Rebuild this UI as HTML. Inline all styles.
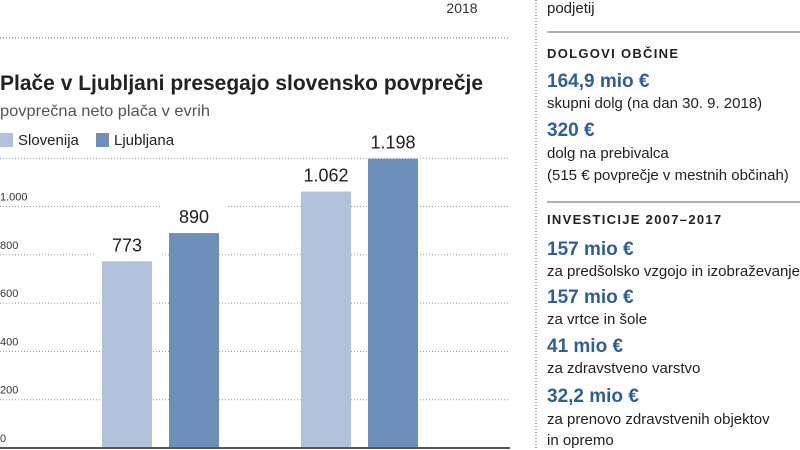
<!DOCTYPE html>
<html><head><meta charset="utf-8"><style>
body{margin:0;background:#fff;width:800px;height:450px;overflow:hidden}
svg{display:block;font-family:"Liberation Sans",sans-serif}
</style></head><body>
<svg id="chart" width="800" height="450" viewBox="0 0 800 450">
<text x="462" y="13" font-size="14" fill="#333" text-anchor="middle">2018</text>
<line x1="0" y1="38" x2="510" y2="38" stroke="#777" stroke-dasharray="1,2"/>
<text x="0" y="90" font-size="21" font-weight="bold" fill="#222" textLength="483" lengthAdjust="spacingAndGlyphs">Plače v Ljubljani presegajo slovensko povprečje</text>
<text x="0" y="116" font-size="16" fill="#555" textLength="210" lengthAdjust="spacingAndGlyphs">povprečna neto plača v evrih</text>
<g>
<rect x="0" y="133" width="13" height="14" fill="#b1c1dc"/>
<text x="18" y="145" font-size="15" fill="#222">Slovenija</text>
<rect x="96" y="133" width="13" height="14" fill="#6f8fba"/>
<text x="114" y="145" font-size="15" fill="#222">Ljubljana</text>
</g>
<g id="plot"></g>
<line x1="536" y1="0" x2="536" y2="450" stroke="#555" stroke-dasharray="1,2"/>
<g font-size="15" fill="#222">
<text x="547" y="13">podjetij</text>
<line x1="547" y1="32" x2="800" y2="32" stroke="#666"/>
<text x="547" y="58" font-size="13" font-weight="bold" letter-spacing="1.3">DOLGOVI OBČINE</text>
<text x="547" y="87" font-size="19" font-weight="bold" fill="#2e5f95">164,9 mio €</text>
<text x="547" y="108">skupni dolg (na dan 30. 9. 2018)</text>
<text x="547" y="136" font-size="19" font-weight="bold" fill="#2e5f95">320 €</text>
<text x="547" y="158">dolg na prebivalca</text>
<text x="547" y="180">(515 € povprečje v mestnih občinah)</text>
<line x1="547" y1="202" x2="800" y2="202" stroke="#666"/>
<text x="547" y="224" font-size="13" font-weight="bold" letter-spacing="1.3">INVESTICIJE 2007–2017</text>
<text x="547" y="255" font-size="19" font-weight="bold" fill="#2e5f95">157 mio €</text>
<text x="547" y="276" textLength="253" lengthAdjust="spacingAndGlyphs">za predšolsko vzgojo in izobraževanje</text>
<text x="547" y="303" font-size="19" font-weight="bold" fill="#2e5f95">157 mio €</text>
<text x="547" y="324">za vrtce in šole</text>
<text x="547" y="352" font-size="19" font-weight="bold" fill="#2e5f95">41 mio €</text>
<text x="547" y="373">za zdravstveno varstvo</text>
<text x="547" y="402" font-size="19" font-weight="bold" fill="#2e5f95">32,2 mio €</text>
<text x="547" y="424">za prenovo zdravstvenih objektov</text>
<text x="547" y="445">in opremo</text>
</g>
</svg>
<script>
const groups = ["A", "B"];
const slovenija = [773, 1062];
const ljubljana = [890, 1198];
const valueLabels = [["773", "890"], ["1.062", "1.198"]];
const ticks = [0, 200, 400, 600, 800, 1000, 1200];
const tickLabels = ["0", "200", "400", "600", "800", "1.000", ""];

const NS = "http://www.w3.org/2000/svg";
const plot = document.getElementById("plot");
const y0 = 448, pxPer = 0.2415;
function y(v){ return y0 - v * pxPer; }
const groupX = [102, 301], barW = 50, gap = 17;
function mk(tag, attrs){ const e = document.createElementNS(NS, tag); for (const k in attrs) e.setAttribute(k, attrs[k]); plot.appendChild(e); return e; }

ticks.forEach((t, i) => {
  if (t === 0) return;
  const l = mk("line", {x1:0, x2:510, y1:y(t), y2:y(t), stroke:"#999", "stroke-dasharray":"1,2"});
  
  
});
ticks.forEach((t, i) => {
  if (!tickLabels[i]) return;
  const tx = mk("text", {x:0, y:y(t) - 6, "font-size":11, fill:"#333"});
  tx.textContent = tickLabels[i];
  
  
});
const series = [slovenija, ljubljana], colors = ["#b1c1dc", "#6f8fba"];
groups.forEach((g, gi) => {
  series.forEach((s, si) => {
    const x = groupX[gi] + si * (barW + gap);
    const r = mk("rect", {x:x, y:y(s[gi]), width:barW, height:y0 - y(s[gi]), fill:colors[si]});
    
    
    const bg = mk("rect", {x:x - 8, y:y(s[gi]) - 27, width:barW + 16, height:22, fill:"#fff"});
    
    
    const t = mk("text", {x:x + barW/2, y:y(s[gi]) - 10, "font-size":18, fill:"#222", "text-anchor":"middle"});
    t.textContent = valueLabels[gi][si];
    
    
  });
});
const base = mk("line", {x1:0, x2:510, y1:y0, y2:y0, stroke:"#555", "stroke-width":2});


</script>
</body></html>
